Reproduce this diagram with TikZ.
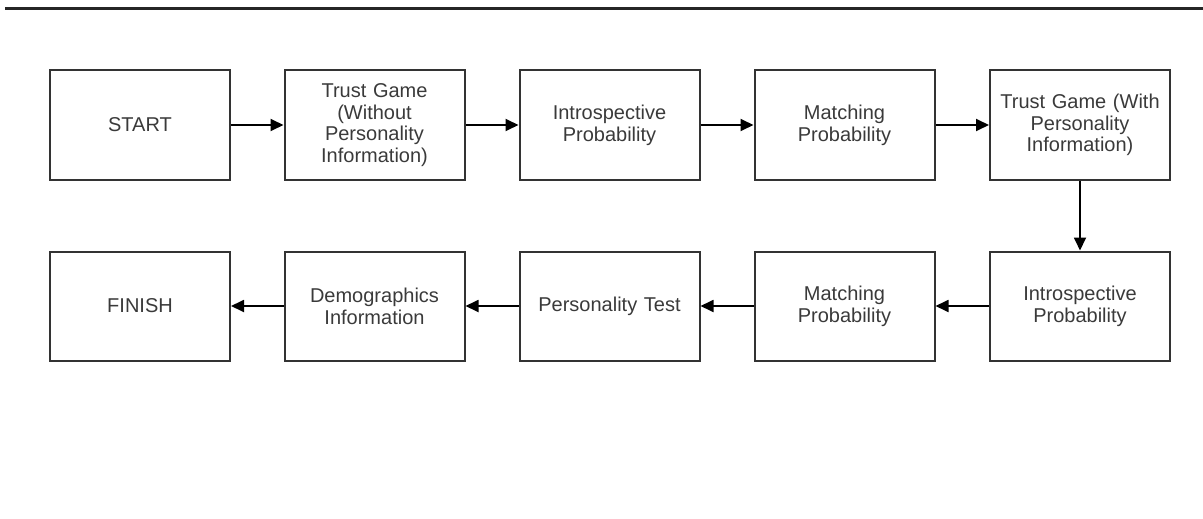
\documentclass[tikz,border=0pt]{standalone}
\usepackage{fontspec}
\setmainfont{Liberation Sans}
\usetikzlibrary{arrows.meta}
\definecolor{boxline}{HTML}{333333}
\definecolor{txt}{HTML}{3A3A3A}
\begin{document}
\begin{tikzpicture}[x=1pt,y=-1pt,
  stepbox/.style={draw=boxline,line width=2pt,minimum width=180pt,minimum height=109pt,
    align=center,text=txt,font=\fontsize{20}{21.8}\selectfont,inner sep=2pt,text width=176pt},
  flow/.style={draw=black,line width=1.8pt,-{Triangle[length=13pt,width=12pt]}}]
\useasboundingbox (0,0) rectangle (1203,519);
\draw[line width=3pt,draw=black!85] (5,9) -- (1203,9);
\node[stepbox] (start) at (140,125) {START};
\node[stepbox] (tg1) at (374.5,125) {Trust Game\\(Without\\Personality\\Information)};
\node[stepbox] (ip1) at (609.5,125) {Introspective\\Probability};
\node[stepbox] (mp1) at (844.5,125) {Matching\\Probability};
\node[stepbox] (tg2) at (1080,125) {Trust Game (With\\Personality\\Information)};
\node[stepbox] (ip2) at (1080,306) {Introspective\\Probability};
\node[stepbox] (mp2) at (844.5,306) {Matching\\Probability};
\node[stepbox] (pt) at (609.5,306) {Personality Test};
\node[stepbox] (dem) at (374.5,306) {Demographics\\Information};
\node[stepbox] (fin) at (140,306) {FINISH};
\draw[flow] (start) -- (tg1);
\draw[flow] (tg1) -- (ip1);
\draw[flow] (ip1) -- (mp1);
\draw[flow] (mp1) -- (tg2);
\draw[flow] (tg2) -- (ip2);
\draw[flow] (ip2) -- (mp2);
\draw[flow] (mp2) -- (pt);
\draw[flow] (pt) -- (dem);
\draw[flow] (dem) -- (fin);
\end{tikzpicture}
\end{document}
